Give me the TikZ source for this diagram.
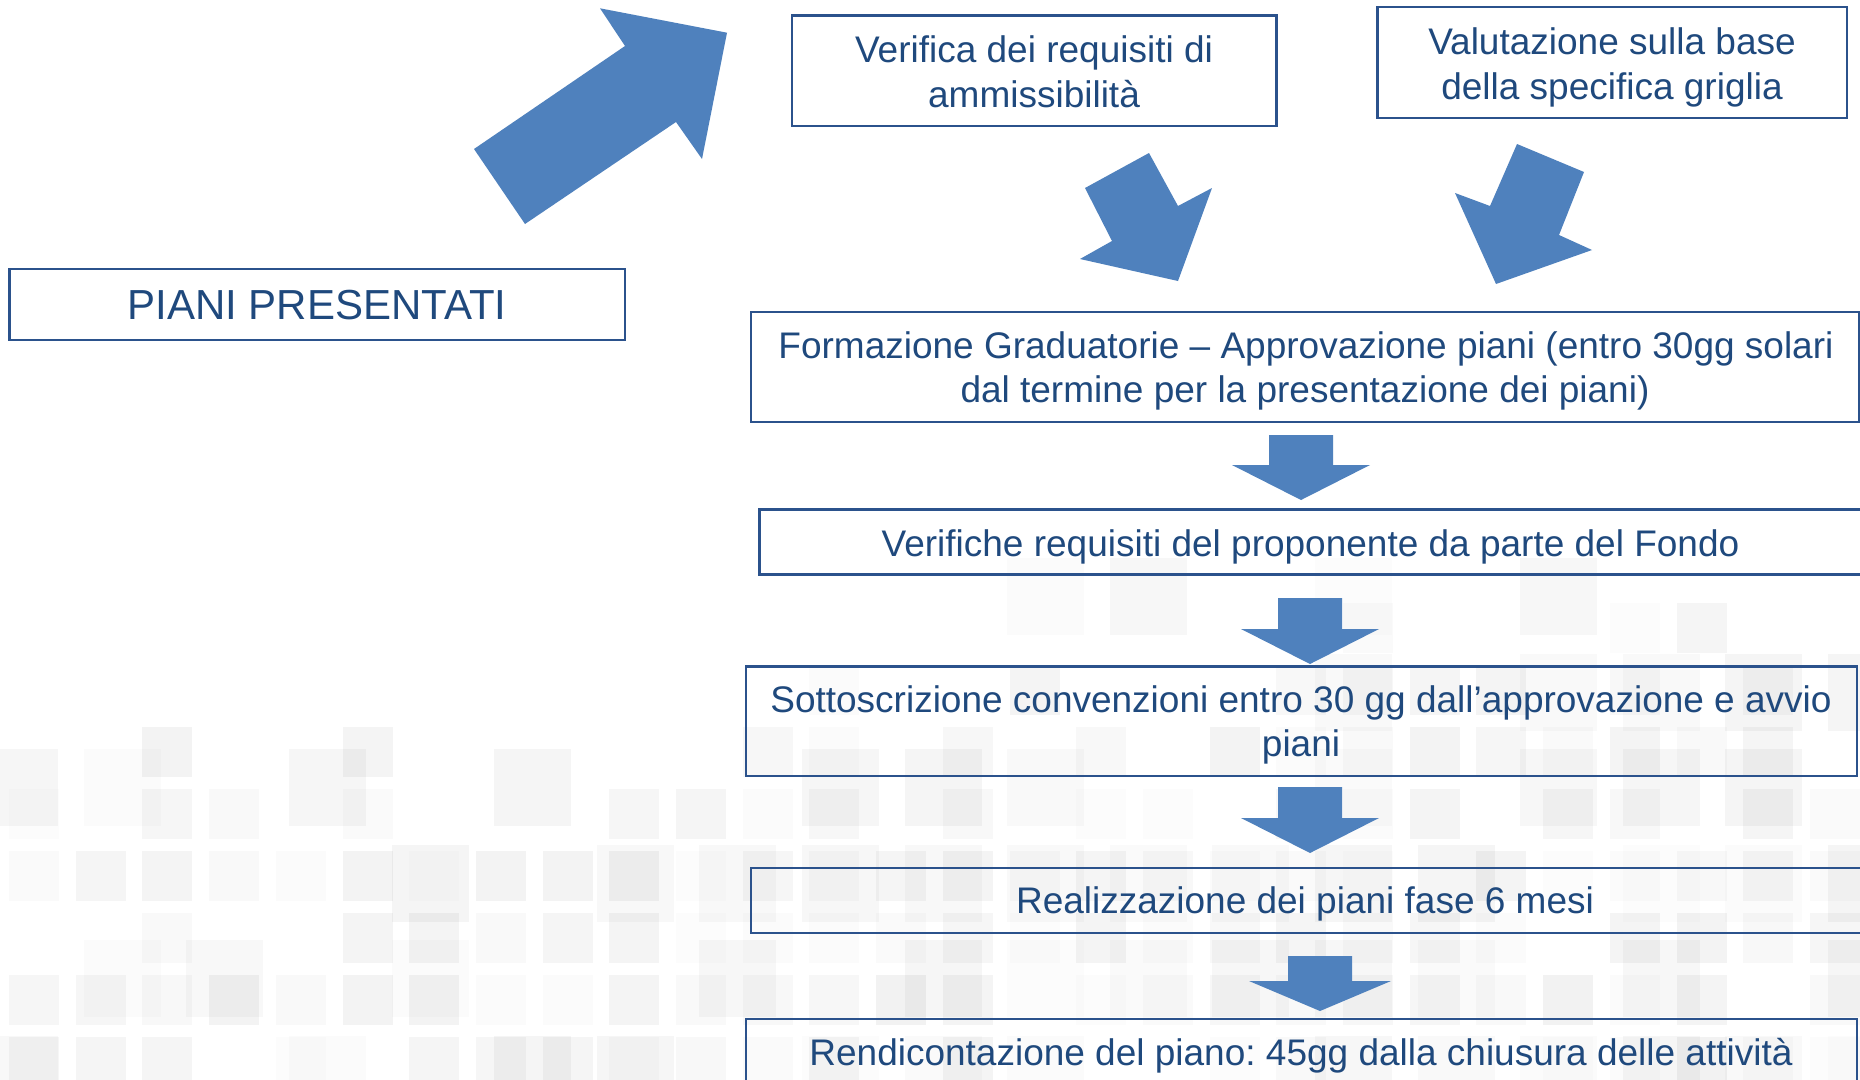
\documentclass[tikz,border=0pt]{standalone}
\usepackage{fontspec}
\setmainfont{Liberation Sans}
\frenchspacing
\definecolor{txtblue}{HTML}{1F497D}
\definecolor{boxblue}{HTML}{2B528C}
\definecolor{arrblue}{HTML}{4F81BD}
\newcommand{\downblock}[6]{% cx, top, base, tip, shaft half, head half
  \fill[blockarrow] (#1-#5,#2) -- (#1+#5,#2) -- (#1+#5,#3) -- (#1+#6,#3) -- (#1,#4) -- (#1-#6,#3) -- (#1-#5,#3) -- cycle;}
\begin{document}
\frenchspacing
\begin{tikzpicture}[x=1pt,y=-1pt,
  box/.style={draw=boxblue, line width=2.2pt, rectangle, inner sep=0pt, outer sep=0pt},
  lbl/.style={anchor=base, text=txtblue, font=\fontsize{37}{44}\selectfont, inner sep=0pt},
  biglbl/.style={anchor=base, text=txtblue, font=\fontsize{42}{50}\selectfont, inner sep=0pt},
  blockarrow/.style={fill=arrblue, draw=none}]
\useasboundingbox (0,0) rectangle (1860,1079);
\clip (0,0) rectangle (1860,1079);
\fill[white] (0,0) rectangle (1860,1079);

% background pattern of faint squares
\pgfmathsetseed{7}
\foreach \i in {0,...,18}{
  \foreach \k in {0,...,5}{
    \pgfmathsetmacro{\xx}{-18.8+102.6*\i}
    \pgfmathsetmacro{\yy}{558+95.5*\k}
    \pgfmathsetmacro{\st}{\xx<700 ? 740 : (\xx<1000 ? 650 : 550)}
    \pgfmathsetmacro{\p}{min(0.6,0.3+(\yy-\st)/400)}
    \pgfmathsetmacro{\r}{rnd}
    \pgfmathsetmacro{\op}{0.01+0.03*rnd}
    \pgfmathtruncatemacro{\show}{(\yy>=\st && \r<\p) ? 1 : 0}
    \ifnum\show=1 \fill[black, fill opacity=\op] (\xx,\yy) rectangle ++(77,77); \fi
  }
}
\foreach \i in {0,...,27}{
  \foreach \j in {0,...,7}{
    \pgfmathsetmacro{\xx}{9+66.7*\i}
    \pgfmathsetmacro{\yy}{603+62*\j}
    \pgfmathsetmacro{\st}{\xx<780 ? 720 : (\xx<1000 ? 660 : 600)}
    \pgfmathsetmacro{\p}{min(0.8,0.35+(\yy-\st)/300)}
    \pgfmathsetmacro{\r}{rnd}
    \pgfmathsetmacro{\op}{0.01+0.04*rnd}
    \pgfmathtruncatemacro{\show}{(\yy>=\st && \r<\p) ? 1 : 0}
    \ifnum\show=1 \fill[black, fill opacity=\op] (\xx,\yy) rectangle ++(50,50); \fi
  }
}

% boxes
\node[box, minimum width=615.5, minimum height=71] (piani) at (317.25,304.5) {};
\node[box, minimum width=484.5, minimum height=110.5] (verif) at (1034.25,70.75) {};
\node[box, minimum width=469.5, minimum height=111] (valut) at (1612.25,62.5) {};
\node[box, minimum width=1108, minimum height=110] (form) at (1305,367) {};
\node[box, minimum width=1103, minimum height=65] (verifiche) at (1311,542) {};
\node[box, minimum width=1111, minimum height=109.5] (sottos) at (1301.5,721.25) {};
\node[box, minimum width=1111, minimum height=65] (realiz) at (1306.5,900.5) {};
\node[box, minimum width=1111, minimum height=65] (rendic) at (1301.5,1051.5) {};

% texts
\node[biglbl] (tpiani) at (317,319) {PIANI PRESENTATI};
\node[lbl] (tverif1) at (1034,62.5) {Verifica dei requisiti di};
\node[lbl] (tverif2) at (1034,107) {ammissibilità};
\node[lbl] (tvalut1) at (1612,54.5) {Valutazione sulla base};
\node[lbl] (tvalut2) at (1612,99) {della specifica griglia};
\node[lbl] (tform1) at (1306,358) {Formazione Graduatorie – Approvazione piani (entro 30gg solari};
\node[lbl] (tform2) at (1305,402.5) {dal termine per la presentazione dei piani)};
\node[lbl] (tverifiche) at (1310.5,556) {Verifiche requisiti del proponente da parte del Fondo};
\node[lbl] (tsottos1) at (1301,712) {Sottoscrizione convenzioni entro 30 gg dall’approvazione e avvio};
\node[lbl] (tsottos2) at (1301,756) {piani};
\node[lbl] (trealiz) at (1305,913) {Realizzazione dei piani fase 6 mesi};
\node[lbl] (trendic) at (1301,1065) {Rendicontazione del piano: 45gg dalla chiusura delle attività};

% block arrows
\fill[blockarrow] (600,8.3) -- (727,32.7) -- (702,159) -- (676,122) -- (525,224) -- (474,149) -- (625,46) -- cycle;
\fill[blockarrow] (1149,153) -- (1178,206) -- (1212,188) -- (1178,281) -- (1080,259) -- (1112,241) -- (1085,188) -- cycle;
\fill[blockarrow] (1517,144) -- (1584,172) -- (1559,235) -- (1592,250) -- (1496,284) -- (1455,193) -- (1490,206) -- cycle;
\downblock{1301}{435}{465}{500}{32}{69}
\downblock{1310}{598}{629}{664}{32}{69}
\downblock{1310}{787}{818}{853}{32}{69}
\downblock{1320}{956}{981}{1011}{32}{71}
\end{tikzpicture}
\end{document}
